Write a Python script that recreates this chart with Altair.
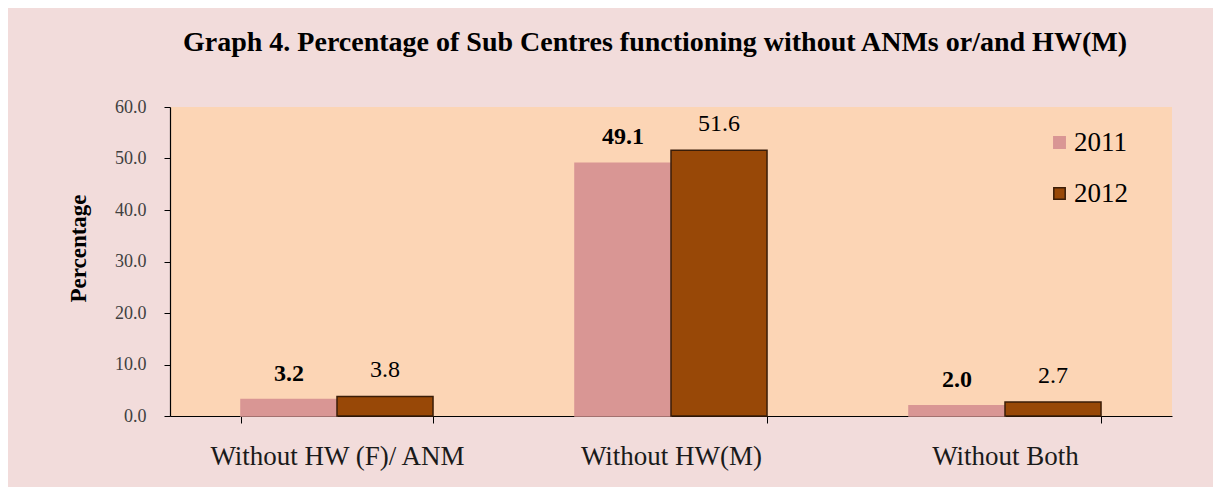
import altair as alt
import pandas as pd

categories = ["Without HW (F)/ ANM", "Without HW(M)", "Without Both"]
years = ["2011", "2012"]
values_2011 = [3.2, 49.1, 2.0]
values_2012 = [3.8, 51.6, 2.7]

rows = []
for i, c in enumerate(categories):
    rows.append({"cat": c, "year": "2011", "value": values_2011[i]})
    rows.append({"cat": c, "year": "2012", "value": values_2012[i]})
df = pd.DataFrame(rows)

SERIF = "Liberation Serif"
fill_colors = ["#D99694", "#984807"]
stroke_colors = ["#D99694", "#3A1D08"]

x = alt.X("cat:N", sort=categories, title=None,
          scale=alt.Scale(paddingInner=0.425, paddingOuter=0.2125),
          axis=alt.Axis(labelAngle=0, labelFont=SERIF, labelFontSize=27, labelColor="#1a1a1a",
                        labelLimit=0,
                        domainColor="#000000", tickColor="#000000", tickSize=7, tickBand="extent",
                        labelPadding=20, domainWidth=1.2))
y = alt.Y("value:Q", title="Percentage",
          scale=alt.Scale(domain=[0, 60], nice=False),
          axis=alt.Axis(values=[0, 10, 20, 30, 40, 50, 60], format=".1f", grid=False,
                        labelFont=SERIF, labelFontSize=18, labelColor="#404040",
                        domainColor="#000000", tickColor="#000000", tickSize=6, labelPadding=18,
                        titleFont=SERIF, titleFontSize=23, titleFontWeight="bold",
                        titleColor="#000000", titlePadding=24, titleY=141, domainWidth=1.2))

leg = alt.Legend(title=None, orient="none", legendX=876, legendY=22,
                 labelFont=SERIF, labelFontSize=27, labelColor="#000000",
                 symbolType="square", symbolSize=130, rowPadding=23, labelOffset=1)

bars = alt.Chart(df).mark_bar(strokeWidth=1.5).encode(
    x=x, y=y,
    xOffset=alt.XOffset("year:N", sort=years, scale=alt.Scale(paddingInner=0, paddingOuter=0)),
    color=alt.Color("year:N", sort=years, scale=alt.Scale(domain=years, range=fill_colors), legend=leg),
    stroke=alt.Stroke("year:N", sort=years, scale=alt.Scale(domain=years, range=stroke_colors), legend=leg),
)

def labels(year, weight):
    return alt.Chart(df).transform_filter(alt.datum.year == year).mark_text(
        font=SERIF, fontSize=24, fontWeight=weight, baseline="bottom", dy=-14, color="#000000"
    ).encode(
        x=x, y=y,
        xOffset=alt.XOffset("year:N", sort=years,
                            scale=alt.Scale(domain=years, paddingInner=0, paddingOuter=0)),
        text=alt.Text("value:Q", format=".1f"),
    )

chart = alt.layer(bars, labels("2011", "bold"), labels("2012", "normal")).properties(
    width=1002, height=309,
    background="#F2DCDB",
    padding={"left": 162, "top": 99, "right": 41, "bottom": 71},
    autosize=alt.AutoSizeParams(type="none"),
    title=alt.TitleParams("Graph 4. Percentage of Sub Centres functioning without ANMs or/and HW(M)",
                          font=SERIF, fontSize=28, fontWeight="bold", color="#000000",
                          anchor="middle", offset=41, dx=-16),
).configure_view(fill="#FCD5B5", stroke=None)

chart.save("out.html", embed_options={"renderer": "svg", "actions": False})
